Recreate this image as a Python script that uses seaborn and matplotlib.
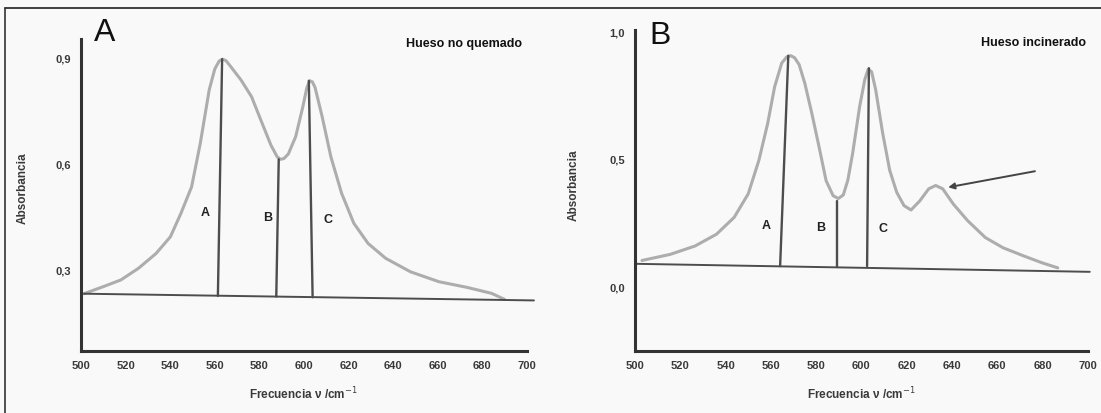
import numpy as np
import pandas as pd
import matplotlib
matplotlib.use("Agg")
import matplotlib.pyplot as plt
from matplotlib.lines import Line2D
from matplotlib.ticker import MultipleLocator, FixedLocator
import seaborn as sns

# ---------------- data ----------------
# Panel A: Hueso no quemado
a_freq = [501.3, 510.0, 517.9, 525.8, 533.7, 540.1, 544.8, 549.6, 553.5, 557.5,
          560.0, 562.0, 563.4, 565.0, 566.8, 571.8, 576.5, 581.3, 585.2, 588.0,
          589.5, 591.0, 593.0, 596.3, 599.5, 601.3, 602.6, 603.8, 605.0, 608.2,
          612.1, 616.9, 622.4, 628.8, 636.7, 647.8, 660.5, 673.1, 684.2, 690.0]
a_abs = [0.235, 0.255, 0.274, 0.307, 0.349, 0.396, 0.462, 0.537, 0.660, 0.811,
         0.870, 0.893, 0.898, 0.894, 0.880, 0.839, 0.792, 0.716, 0.655, 0.622,
         0.615, 0.617, 0.630, 0.679, 0.763, 0.817, 0.837, 0.834, 0.818, 0.735,
         0.622, 0.519, 0.434, 0.377, 0.335, 0.297, 0.269, 0.253, 0.236, 0.219]
a_base_freq = [501.3, 703.2]
a_base_abs = [0.235, 0.216]
a_band_names = ["A", "B", "C"]
a_band_bottom_freq = [561.4, 587.6, 603.9]
a_band_bottom_abs = [0.229, 0.227, 0.225]
a_band_top_freq = [563.3, 588.7, 602.2]
a_band_top_abs = [0.898, 0.615, 0.837]
a_label_freq = [555.9, 583.6, 610.6]
a_label_abs = [0.462, 0.448, 0.443]
a_yticks = [0.3, 0.6, 0.9]
a_yticklabels = ["0,3", "0,6", "0,9"]
a_title = "Hueso no quemado"

# Panel B: Hueso incinerado
b_freq = [503.1, 515.6, 526.6, 536.0, 543.8, 550.0, 554.7, 558.6, 561.7, 564.8,
          567.0, 568.8, 570.5, 572.5, 575.0, 578.1, 581.3, 584.4, 587.5, 589.8,
          592.0, 594.0, 596.1, 599.2, 601.5, 603.0, 604.5, 606.3, 609.4, 612.5,
          615.6, 618.8, 621.9, 625.8, 629.7, 632.8, 635.9, 640.6, 646.9, 654.7,
          662.5, 671.9, 679.7, 686.7]
b_abs = [0.105, 0.129, 0.162, 0.208, 0.274, 0.366, 0.497, 0.642, 0.787, 0.879,
         0.903, 0.908, 0.900, 0.873, 0.800, 0.682, 0.550, 0.418, 0.359, 0.348,
         0.362, 0.420, 0.524, 0.708, 0.815, 0.855, 0.845, 0.774, 0.603, 0.458,
         0.372, 0.320, 0.303, 0.339, 0.386, 0.399, 0.386, 0.326, 0.261, 0.195,
         0.155, 0.122, 0.096, 0.076]
b_base_freq = [500.0, 700.8]
b_base_abs = [0.092, 0.0605]
b_band_names = ["A", "B", "C"]
b_band_bottom_freq = [564.1, 589.2, 602.5]
b_band_bottom_abs = [0.083, 0.079, 0.083]
b_band_top_freq = [567.7, 589.2, 603.3]
b_band_top_abs = [0.908, 0.339, 0.859]
b_label_freq = [557.8, 582.0, 609.4]
b_label_abs = [0.241, 0.234, 0.228]
b_arrow_tail = (676.6, 0.455)
b_arrow_head = (638.3, 0.392)
b_yticks = [0.0, 0.5, 1.0]
b_yticklabels = ["0,0", "0,5", "1,0"]
b_title = "Hueso incinerado"

x_ticks = [500, 520, 540, 560, 580, 600, 620, 640, 660, 680, 700]
x_ticklabels = [str(v) for v in x_ticks]
x_label = "Frecuencia ν /cm$^{-1}$"
y_label = "Absorbancia"

# ---------------- style ----------------
sns.set_style("white")
plt.rcParams["font.family"] = ["Liberation Sans", "DejaVu Sans"]
plt.rcParams["mathtext.fontset"] = "dejavusans"

BG = "#f9f9f9"
CURVE = "#adadad"
LINE = "#4d4d4d"
AXC = "#333333"
TXT = "#3a3a3a"

fig = plt.figure(figsize=(11.01, 4.13), dpi=100, facecolor=BG)

axA = fig.add_axes([0.0736, 0.1501, 0.4150, 0.7554])
axB = fig.add_axes([0.5767, 0.1501, 0.4217, 0.7780])


def draw_panel(ax, freq, absb, base_f, base_a, bb_f, bb_a, bt_f, bt_a,
               names, lab_f, lab_a, ylim, yticks, yticklabels, yminor,
               letter, letter_pos, title, title_pos, ylabel_pos, xlabel_y):
    ax.set_facecolor(BG)
    sns.lineplot(x=freq, y=absb, ax=ax, color=CURVE, linewidth=2.2,
                 estimator=None, sort=False)
    sns.lineplot(x=base_f, y=base_a, ax=ax, color=LINE, linewidth=1.4,
                 estimator=None, sort=False)
    for i in range(len(names)):
        sns.lineplot(x=[bb_f[i], bt_f[i]], y=[bb_a[i], bt_a[i]], ax=ax,
                     color=LINE, linewidth=1.7, estimator=None, sort=False)
        ax.text(lab_f[i], lab_a[i], names[i], ha="center", va="center",
                fontsize=9, fontweight="bold", color="#222222")
    ax.set_xlim(500, 705)
    ax.set_ylim(*ylim)
    ax.set_xticks(x_ticks)
    ax.set_xticklabels(x_ticklabels)
    ax.xaxis.set_minor_locator(MultipleLocator(10))
    ax.set_yticks(yticks)
    ax.set_yticklabels(yticklabels)
    ax.yaxis.set_minor_locator(FixedLocator(yminor))
    for side in ["top", "right"]:
        ax.spines[side].set_visible(False)
    for side in ["left", "bottom"]:
        ax.spines[side].set_color(AXC)
        ax.spines[side].set_linewidth(2.2)
    ax.spines["bottom"].set_bounds(500, 700)
    ax.tick_params(axis="both", which="major", direction="out", length=4,
                   width=1.6, color=AXC, labelsize=8, labelcolor=TXT, pad=3)
    ax.tick_params(axis="both", which="minor", direction="out", length=3,
                   width=1.4, color="#666666")
    for lab in ax.get_xticklabels() + ax.get_yticklabels():
        lab.set_fontweight("bold")
    ax.set_xlabel(x_label, fontsize=8.5, fontweight="bold", color=TXT)
    ax.xaxis.set_label_coords((600 - 500) / 205, xlabel_y)
    ax.set_ylabel("")
    ax.text(ylabel_pos[0], ylabel_pos[1], y_label, transform=ax.transAxes,
            rotation=90, ha="center", va="center", fontsize=8.5,
            fontweight="bold", color=TXT)
    ax.text(letter_pos[0], letter_pos[1], letter, ha="center", va="center",
            fontsize=23, color="#111111")
    ax.text(title_pos[0], title_pos[1], title, ha="center", va="center",
            fontsize=9, fontweight="bold", color="#111111")


draw_panel(axA, a_freq, a_abs, a_base_freq, a_base_abs,
           a_band_bottom_freq, a_band_bottom_abs, a_band_top_freq, a_band_top_abs,
           a_band_names, a_label_freq, a_label_abs,
           (0.073, 0.955), a_yticks, a_yticklabels, [0.15, 0.45, 0.75],
           "A", (510.8, 0.971), a_title, (672.0, 0.942), (-0.128, 0.522), -0.112)

draw_panel(axB, b_freq, b_abs, b_base_freq, b_base_abs,
           b_band_bottom_freq, b_band_bottom_abs, b_band_top_freq, b_band_top_abs,
           b_band_names, b_label_freq, b_label_abs,
           (-0.25, 1.01), b_yticks, b_yticklabels, [0.25, 0.75],
           "B", (511.0, 0.985), b_title, (676.0, 0.958), (-0.132, 0.517), -0.109)

axB.annotate("", xy=b_arrow_head, xytext=b_arrow_tail,
             arrowprops=dict(arrowstyle="-|>", color="#444444", lw=1.4,
                             mutation_scale=9, shrinkA=0, shrinkB=0))

# outer frame (top and left edges as in the reference)
fig.add_artist(Line2D([5 / 1101, 1.0], [1 - 7.5 / 413, 1 - 7.5 / 413],
                      transform=fig.transFigure, color="#222222", linewidth=1.2))
fig.add_artist(Line2D([5 / 1101, 5 / 1101], [0.0, 1 - 7.5 / 413],
                      transform=fig.transFigure, color="#333333", linewidth=1.2))

fig.savefig("out.png", dpi=100, facecolor=BG)
